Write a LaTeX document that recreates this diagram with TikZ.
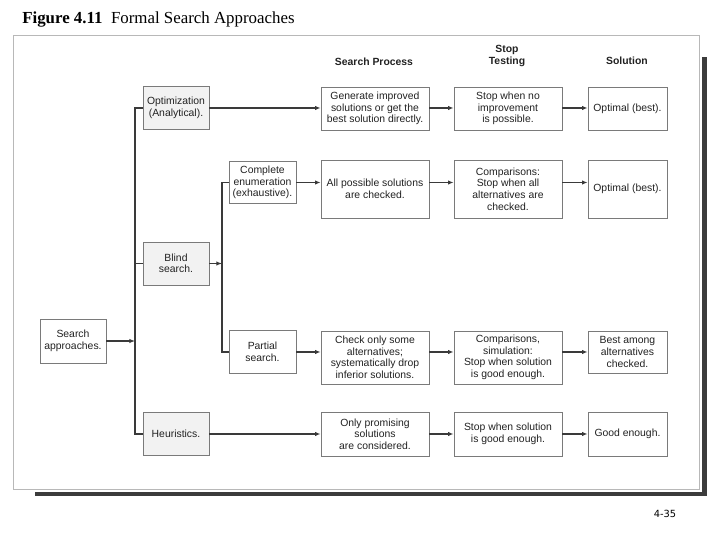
\documentclass[tikz,border=0pt]{standalone}
\usepackage{fontspec}
\setmainfont{Liberation Serif}
\setsansfont{Liberation Sans}
\newfontfamily\pagefont{DejaVu Sans}
\usetikzlibrary{arrows.meta}
\definecolor{framegray}{HTML}{B8B8B8}
\definecolor{shadowgray}{HTML}{3C3C3C}
\definecolor{boxline}{HTML}{7A7A7A}
\definecolor{softgray}{HTML}{F2F2F2}
\definecolor{linedark}{HTML}{3A3A3A}
\definecolor{textgray}{HTML}{222222}
\tikzset{
  box/.style={draw=boxline, line width=0.5pt, align=center, fill=white, inner sep=1pt, text=textgray, font=\sffamily\fontsize{7.4}{8.2}\selectfont},
  root/.style={box, minimum width=16.5mm, minimum height=11mm},
  method/.style={box, fill=softgray, minimum width=16.5mm, minimum height=10.8mm},
  subsearch/.style={box, minimum width=16.75mm, minimum height=10.6mm},
  stepbox/.style={box, minimum width=27mm},
  result/.style={box, minimum width=19.75mm},
  header/.style={align=center, text=textgray, font=\sffamily\bfseries\fontsize{7.4}{8.4}\selectfont},
  conn/.style={draw=linedark, line width=0.9pt},
  arrow/.style={conn, -{Latex[length=1.4mm, width=1.1mm]}}
}

\begin{document}
\begin{tikzpicture}
  \useasboundingbox (0,0) rectangle (18,13.5);

  % frame and shadow
  \fill[shadowgray] (17.55,1.1) rectangle (17.675,12.075);
  \fill[shadowgray] (0.875,1.1) rectangle (17.675,1.2);
  \draw[framegray, line width=0.7pt, fill=white] (0.325,1.275) rectangle (17.475,12.625);

  \node[anchor=base west, inner sep=0pt, font=\fontsize{12}{14}\selectfont] (title) at (0.55,12.9) {\textbf{Figure 4.11}\ \ Formal Search Approaches};
  \node[font=\pagefont\fontsize{7}{8}\selectfont] (pageNo) at (16.625,0.65) {4-35};

  \node[header] (hdProcess) at (9.35,11.95) {Search Process};
  \node[header] (hdTesting) at (12.675,12.11) {Stop\\Testing};
  \node[header] (hdSolution) at (15.675,11.975) {Solution};

  \node[root] (search) at (1.825,4.975) {Search\\approaches.};

  \node[method] (opt) at (4.4,10.8) {Optimization\\(Analytical).};
  \node[method] (blind) at (4.4,6.9125) {Blind\\search.};
  \node[method] (heur) at (4.4,2.65) {Heuristics.};

  \node[subsearch] (compl) at (6.5625,8.9375) {Complete\\enumeration\\(exhaustive).};
  \node[subsearch] (partial) at (6.5625,4.7) {Partial\\search.};

  \node[stepbox, minimum height=10.75mm] (genImp) at (9.375,10.7875) {Generate improved\\solutions or get the\\best solution directly.};
  \node[stepbox, minimum height=10.75mm] (stopNoImp) at (12.7,10.7875) {Stop when no\\improvement\\is possible.};
  \node[result, minimum height=10.75mm] (optBest) at (15.6875,10.7875) {Optimal (best).};

  \node[stepbox, minimum height=14.5mm] (allSol) at (9.375,8.775) {All possible solutions\\are checked.};
  \node[stepbox, minimum height=14.5mm] (stopAll) at (12.7,8.775) {Comparisons:\\Stop when all\\alternatives are\\checked.};
  \node[result, minimum height=14.5mm] (optAll) at (15.6875,8.775) {Optimal (best).};

  \node[stepbox, minimum height=13.25mm] (checkSome) at (9.375,4.5625) {Check only some\\alternatives;\\systematically drop\\inferior solutions.};
  \node[stepbox, minimum height=13.25mm] (stopGood) at (12.7,4.5625) {Comparisons,\\simulation:\\Stop when solution\\is good enough.};
  \node[result, minimum height=10.5mm] (bestAmong) at (15.6875,4.7) {Best among\\alternatives\\checked.};

  \node[stepbox, minimum height=11mm] (onlyProm) at (9.375,2.65) {Only promising\\solutions\\are considered.};
  \node[stepbox, minimum height=11mm] (stopHeur) at (12.7,2.65) {Stop when solution\\is good enough.};
  \node[result, minimum height=11mm] (goodEnough) at (15.6875,2.65) {Good enough.};

  \coordinate (trunk) at (3.375,6.9125);
  \coordinate (fork) at (5.55,6.9125);

  \draw[arrow] (search.east) -- (search -| trunk);
  \draw[conn] (opt.west) -| (trunk) |- (heur.west);
  \draw[conn] (trunk) -- (blind.west);
  \draw[arrow] (blind.east) -- (fork);
  \draw[conn] (compl.west) -| (fork) |- (partial.west);

  \draw[arrow] (opt.east) -- (opt -| genImp.west);
  \draw[arrow] (genImp.east |- opt) -- (stopNoImp.west |- opt);
  \draw[arrow] (stopNoImp.east |- opt) -- (optBest.west |- opt);

  \draw[arrow] (compl.east) -- (compl -| allSol.west);
  \draw[arrow] (allSol.east |- compl) -- (stopAll.west |- compl);
  \draw[arrow] (stopAll.east |- compl) -- (optAll.west |- compl);

  \draw[arrow] (partial.east) -- (partial -| checkSome.west);
  \draw[arrow] (checkSome.east |- partial) -- (stopGood.west |- partial);
  \draw[arrow] (stopGood.east |- partial) -- (bestAmong.west |- partial);

  \draw[arrow] (heur.east) -- (heur -| onlyProm.west);
  \draw[arrow] (onlyProm.east |- heur) -- (stopHeur.west |- heur);
  \draw[arrow] (stopHeur.east |- heur) -- (goodEnough.west |- heur);
\end{tikzpicture}
\end{document}
